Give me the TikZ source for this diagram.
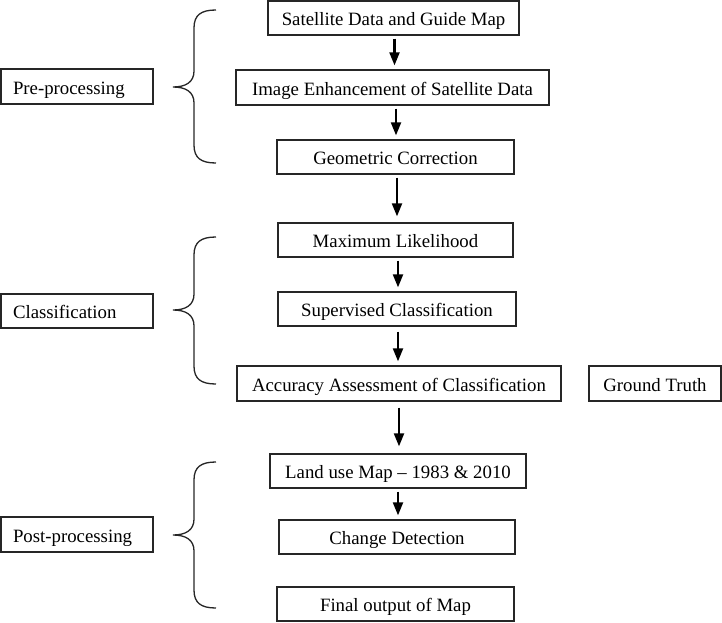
\documentclass[tikz,border=0pt]{standalone}
\usepackage{fontspec}
\setmainfont{Liberation Serif}
\usetikzlibrary{arrows.meta}
\tikzset{
  box/.style={draw=black!85, line width=1.3pt, rectangle, inner sep=0pt, minimum height=34pt, text height=17.5pt, text depth=2pt, font=\fontsize{18.8}{22}\selectfont, text=black},
  sidebox/.style={box, minimum width=152pt, text width=128pt, align=left},
  arr/.style={line width=2.1pt, -{Triangle[length=13pt,width=10pt]}, shorten <=3pt, shorten >=4pt},
  bracestyle/.style={line width=1.3pt, draw=black!85},
}
\newcommand\drawbrace[3]{%
  \draw[bracestyle] (216,#1) .. controls (201,#1) and (194,#1+5) .. (194,#1+18) -- (194,#2-16)
    .. controls (194,#2-5) and (186,#2) .. (173,#2)
    .. controls (186,#2) and (194,#2+5) .. (194,#2+16) -- (194,#3-18)
    .. controls (194,#3-5) and (201,#3) .. (216,#3);}
\begin{document}
\begin{tikzpicture}[x=1pt,y=-1pt]
\useasboundingbox (0,0) rectangle (722,623);
% main column
\node[box, minimum width=251pt] (sat) at (393.5,18) {Satellite Data and Guide Map};
\node[box, minimum width=313pt, minimum height=35pt] (img) at (392.5,87.5) {Image Enhancement of Satellite Data};
\node[box, minimum width=237pt] (geo) at (395.5,157) {Geometric Correction};
\node[box, minimum width=235pt] (max) at (395.5,240) {Maximum Likelihood};
\node[box, minimum width=238pt] (sup) at (397,309) {Supervised Classification};
\node[box, minimum width=324pt, minimum height=35pt] (acc) at (399,383.5) {Accuracy Assessment of Classification};
\node[box, minimum width=132pt, minimum height=35pt] (gt) at (655,383.5) {Ground Truth};
\node[box, minimum width=256pt] (land) at (398,471) {Land use Map -- 1983 \& 2010};
\node[box, minimum width=236pt] (chg) at (397,537) {Change Detection};
\node[box, minimum width=237pt] (fin) at (395.5,604) {Final output of Map};
% side boxes
\node[sidebox, minimum height=35pt] (pre) at (77,86.5) {Pre-processing};
\node[sidebox] (cls) at (77,311) {Classification};
\node[sidebox, minimum height=35pt] (post) at (77,534.5) {Post-processing};
% braces
\drawbrace{10}{87}{163}
\drawbrace{237}{310}{384}
\drawbrace{462}{535}{608}
% arrows
\draw[arr] ([xshift=1pt]sat.south) -- ([xshift=1pt]sat.south |- img.north);
\draw[arr] ([xshift=3.5pt]img.south) -- ([xshift=3.5pt]img.south |- geo.north);
\draw[arr, shorten >=6pt] ([xshift=1.5pt]geo.south) -- ([xshift=1.5pt]geo.south |- max.north);
\draw[arr] ([xshift=2.5pt]max.south) -- ([xshift=2.5pt]max.south |- sup.north);
\draw[arr, shorten <=5pt] ([xshift=1pt]sup.south) -- ([xshift=1pt]sup.south |- acc.north);
\draw[arr, shorten <=6pt, shorten >=7pt] (acc.south) -- (acc.south |- land.north);
\draw[arr] (land.south) -- (land.south |- chg.north);
\end{tikzpicture}
\end{document}
